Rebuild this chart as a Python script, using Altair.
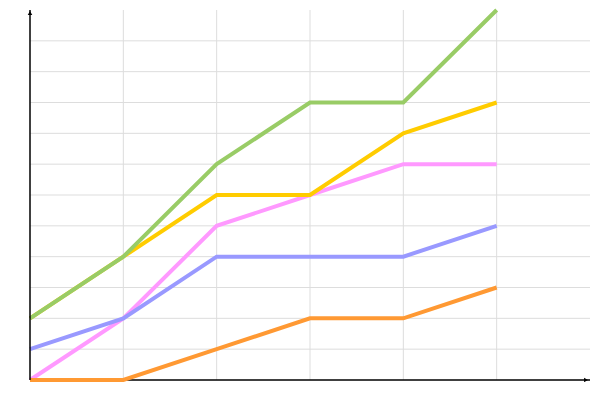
import altair as alt
import pandas as pd

x_index = [0, 1, 2, 3, 4, 5]
series_names = ["pink", "blue", "orange", "yellow", "green"]
series_colors = ["#FF99FF", "#9999FF", "#FF9933", "#FFCC00", "#99CC66"]
pink = [0, 2, 5, 6, 7, 7]
blue = [1, 2, 4, 4, 4, 5]
orange = [0, 0, 1, 2, 2, 3]
yellow = [2, 4, 6, 6, 8, 9]
green = [2, 4, 7, 9, 9, 12]
series_values = [pink, blue, orange, yellow, green]

x_grid = [1, 2, 3, 4, 5]
y_grid = [1, 2, 3, 4, 5, 6, 7, 8, 9, 10, 11]
x_max = 6
y_max = 12

xs = alt.Scale(domain=[0, x_max], nice=False, zero=False)
ys = alt.Scale(domain=[0, y_max], nice=False, zero=False)

vgrid = alt.Chart(pd.DataFrame({"x": x_grid, "y0": [0] * len(x_grid), "y1": [y_max] * len(x_grid)})).mark_rule(
    color="#dddddd", strokeWidth=1
).encode(x=alt.X("x:Q", scale=xs, axis=None), y=alt.Y("y0:Q", scale=ys, axis=None), y2="y1:Q")

hgrid = alt.Chart(pd.DataFrame({"y": y_grid, "x0": [0] * len(y_grid), "x1": [x_max] * len(y_grid)})).mark_rule(
    color="#dddddd", strokeWidth=1
).encode(y=alt.Y("y:Q", scale=ys, axis=None), x=alt.X("x0:Q", scale=xs, axis=None), x2="x1:Q")

xaxis = alt.Chart(pd.DataFrame({"x0": [0], "x1": [x_max], "y": [0]})).mark_rule(
    color="black", strokeWidth=1.5
).encode(x=alt.X("x0:Q", scale=xs, axis=None), x2="x1:Q", y=alt.Y("y:Q", scale=ys, axis=None))

xarrow = alt.Chart(pd.DataFrame({"x": [x_max], "y": [0]})).mark_point(
    shape="triangle-right", filled=True, color="black", size=20, opacity=1, xOffset=-4
).encode(x=alt.X("x:Q", scale=xs, axis=None), y=alt.Y("y:Q", scale=ys, axis=None))

yaxis = alt.Chart(pd.DataFrame({"x": [0], "y0": [0], "y1": [y_max]})).mark_rule(
    color="black", strokeWidth=1.5
).encode(x=alt.X("x:Q", scale=xs, axis=None), y=alt.Y("y0:Q", scale=ys, axis=None), y2="y1:Q")

yarrow = alt.Chart(pd.DataFrame({"x": [0], "y": [y_max]})).mark_point(
    shape="triangle-up", filled=True, color="black", size=20, opacity=1, yOffset=3
).encode(x=alt.X("x:Q", scale=xs, axis=None), y=alt.Y("y:Q", scale=ys, axis=None))

layers = [vgrid, hgrid, xaxis]
for name, color, vals in zip(series_names, series_colors, series_values):
    df = pd.DataFrame({"x": x_index, "y": vals, "s": [name] * len(vals)})
    layers.append(
        alt.Chart(df).mark_line(color=color, strokeWidth=4, strokeCap="butt").encode(
            x=alt.X("x:Q", scale=xs, axis=None), y=alt.Y("y:Q", scale=ys, axis=None)
        )
    )
layers += [yaxis, xarrow, yarrow]

chart = alt.layer(*layers).properties(
    width=560,
    height=370,
    autosize=alt.AutoSizeParams(type="none"),
    padding={"left": 22, "top": 2, "right": 2, "bottom": 2},
    background="white",
).configure_view(stroke=None)

chart.save("out.html", embed_options={"renderer": "svg", "actions": False})
